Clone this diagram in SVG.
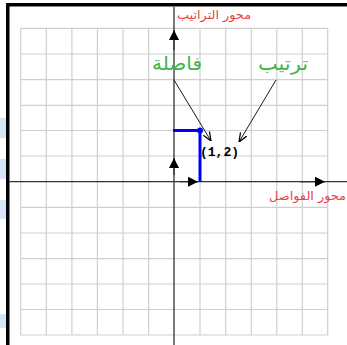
<svg xmlns="http://www.w3.org/2000/svg" width="347" height="345" viewBox="0 0 347 345">
<defs>
<style>
.grid{stroke:#cfcfcf;stroke-width:1.2;fill:none}
.axis{stroke:#333;stroke-width:1.3;fill:none}
.blue{stroke:#0000ff;stroke-width:3;fill:none}
.ptr{stroke:#000;stroke-width:0.9;fill:none}
.red{font-family:"DejaVu Sans","Liberation Sans",sans-serif;font-size:12px;fill:#e8414a}
.green{font-family:"DejaVu Sans","Liberation Sans",sans-serif;font-size:19px;fill:#3cb54a}
.coord{font-family:"Liberation Mono","DejaVu Sans Mono",monospace;font-size:13px;font-weight:bold;fill:#000}
.tab{fill:#d5e4f6}
</style>
<marker id="tri" viewBox="0 0 10 10" refX="10" refY="5" markerWidth="10" markerHeight="10" markerUnits="userSpaceOnUse" orient="auto">
<path d="M0,0 L10,5 L0,10 Z" fill="#000"/>
</marker>
<marker id="ah" viewBox="0 0 10 10" refX="10" refY="5" markerWidth="9" markerHeight="9" markerUnits="userSpaceOnUse" orient="auto">
<path d="M0,1 L10,5 L0,9" fill="none" stroke="#000" stroke-width="1.4"/>
</marker>
</defs>
<rect width="347" height="345" fill="#fff"/>
<g id="tabs">
<rect class="tab" x="0" y="118" width="6" height="20"/>
<rect class="tab" x="0" y="159" width="6" height="20"/>
<rect class="tab" x="0" y="200" width="6" height="19"/>
<rect class="tab" x="0" y="314" width="6" height="14"/>
</g>
<g id="frame">
<rect x="6" y="3" width="341" height="3.5" fill="#000"/>
<rect x="6" y="3" width="3.5" height="342" fill="#000"/>
</g>
<g id="grid" class="grid">
<path d="M20.7,28.3V335M46.3,28.3V335M71.9,28.3V335M97.4,28.3V335M123,28.3V335M148.6,28.3V335M200,28.3V335M225.7,28.3V335M251.3,28.3V335M276.8,28.3V335M302.3,28.3V335M327.7,28.3V335"/>
<path d="M20.7,28.3H327.7M20.7,54H327.7M20.7,79.7H327.7M20.7,105.3H327.7M20.7,130.5H327.7M20.7,156H327.7M20.7,207.3H327.7M20.7,233H327.7M20.7,258.7H327.7M20.7,284H327.7M20.7,309.5H327.7M20.7,335H327.7"/>
</g>
<g id="connectors">
<line class="axis" x1="174" y1="7" x2="174" y2="345"/>
<line class="axis" x1="9" y1="181.7" x2="347" y2="181.7"/>
<line class="axis" x1="174" y1="50" x2="174" y2="30" marker-end="url(#tri)"/>
<line class="axis" x1="300" y1="181.7" x2="325" y2="181.7" marker-end="url(#tri)"/>
<line class="axis" x1="174" y1="175" x2="174" y2="158" marker-end="url(#tri)"/>
<line class="axis" x1="180" y1="181.7" x2="198" y2="181.7" marker-end="url(#tri)"/>
<line class="ptr" x1="174" y1="80" x2="211" y2="141" marker-end="url(#ah)"/>
<line class="ptr" x1="276" y1="80" x2="239" y2="142" marker-end="url(#ah)"/>
</g>
<g id="point">
<path class="blue" d="M173,130.5H200V182"/>
<circle cx="200" cy="130.5" r="3" fill="#0000ff"/>
<text class="coord" x="200" y="156">(1,2)</text>
</g>
<g id="labels">
<text class="red" x="177" y="19" textLength="74" lengthAdjust="spacingAndGlyphs">محور التراتيب</text>
<text class="red" x="269" y="200" textLength="77" lengthAdjust="spacingAndGlyphs">محور الفواصل</text>
<text class="green" x="152" y="70" textLength="50" lengthAdjust="spacingAndGlyphs">فاصلة</text>
<text class="green" x="258" y="70" textLength="50" lengthAdjust="spacingAndGlyphs">ترتيب</text>
</g>
</svg>
